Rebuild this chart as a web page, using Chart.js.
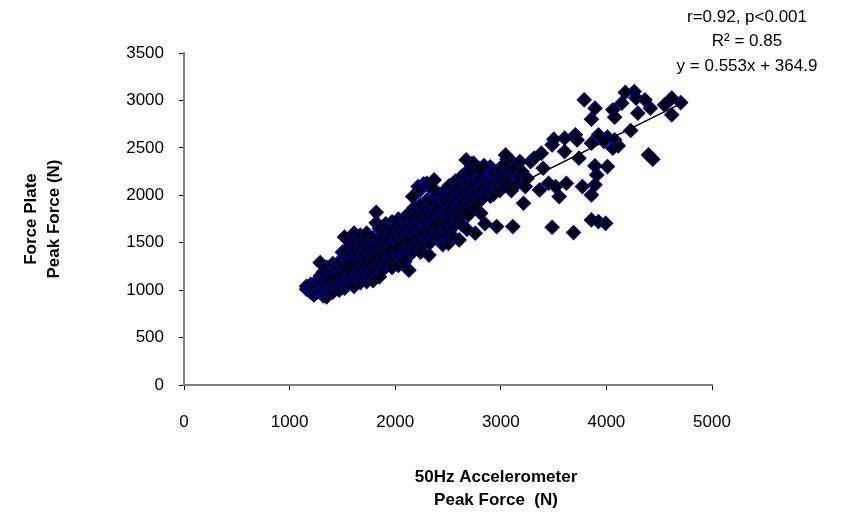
<!DOCTYPE html>
<html>
<head>
<meta charset="utf-8">
<script src="https://cdn.jsdelivr.net/npm/chart.js@4/dist/chart.umd.min.js"></script>
<style>
  html, body { margin: 0; padding: 0; background: #fff; }
</style>
</head>
<body>
<canvas id="peakChart" width="848" height="515"></canvas>
<script>
// accelerometer peak force (x, N) vs force plate peak force (y, N)

// main band, going left to right
var bandPoints = [
  [1160,1040],[1160,1010],
  [1200,1060],[1200,980],[1200,1020],
  [1230,950],[1230,1050],[1230,1000],
  [1260,1100],[1260,1020],[1260,980],
  [1290,1290],[1290,1150],[1290,1060],[1290,1000],
  [1320,1190],[1320,1080],[1320,1010],[1320,940],
  [1350,1240],[1350,1120],[1350,1050],[1350,990],[1350,930],
  [1380,1200],[1380,1100],[1380,1000],
  [1410,1280],[1410,1150],[1410,1060],[1410,980],
  [1440,1230],[1440,1120],[1440,1030],
  [1470,1300],[1470,1180],[1470,1080],[1470,1000],
  [1500,1400],[1500,1250],[1500,1140],[1500,1050],
  [1520,1560],[1520,1410],[1520,1200],[1520,1100],[1520,1020],
  [1550,1320],[1550,1230],[1550,1130],[1550,1060],
  [1580,1500],[1580,1380],[1580,1280],[1580,1170],[1580,1080],
  [1610,1600],[1610,1450],[1610,1340],[1610,1220],[1610,1120],[1610,1040],
  [1640,1530],[1640,1400],[1640,1260],[1640,1150],
  [1670,1580],[1670,1470],[1670,1330],[1670,1200],[1670,1080],
  [1700,1520],[1700,1380],[1700,1260],[1700,1150],
  [1730,1600],[1730,1440],[1730,1310],[1730,1200],[1730,1090],
  [1760,1500],[1760,1370],[1760,1250],[1760,1140],
  [1790,1550],[1790,1420],[1790,1300],[1790,1180],[1790,1100],
  [1820,1820],[1820,1710],[1820,1480],[1820,1350],[1820,1230],
  [1850,1650],[1850,1530],[1850,1400],[1850,1270],[1850,1140],
  [1880,1580],[1880,1460],[1880,1330],[1880,1210],
  [1910,1700],[1910,1620],[1910,1500],[1910,1380],[1910,1260],
  [1940,1660],[1940,1540],[1940,1420],[1940,1300],
  [1970,1720],[1970,1600],[1970,1470],[1970,1350],[1970,1240],
  [2000,1680],[2000,1560],[2000,1430],[2000,1310],
  [2030,1750],[2030,1620],[2030,1500],[2030,1370],[2030,1260],
  [2060,1700],[2060,1580],[2060,1450],[2060,1340],
  [2090,1760],[2090,1640],[2090,1520],[2090,1400],[2090,1300],
  [2120,1800],[2120,1690],[2120,1570],[2120,1450],[2120,1350],[2130,1210],
  [2150,1740],[2150,1620],[2150,1500],[2150,1390],
  [2180,1870],[2180,1780],[2180,1660],[2180,1540],[2180,1420],
  [2210,1820],[2210,1700],[2210,1580],[2210,1460],
  [2240,1900],[2240,1750],[2240,1630],[2240,1510],[2240,1400],
  [2270,1850],[2270,1720],[2270,1600],[2270,1480],
  [2300,1950],[2300,1800],[2300,1670],[2300,1540],[2320,1370],
  [2330,1880],[2330,1750],[2330,1620],[2330,1500],
  [2360,1930],[2360,1800],[2360,1680],[2360,1560],
  [2390,1980],[2390,1850],[2390,1720],[2390,1600],
  [2420,2010],[2420,1890],[2420,1770],[2420,1650],[2420,1540],
  [2450,1950],[2450,1820],[2450,1700],[2450,1590],[2450,1480],
  [2480,2060],[2480,1930],[2480,1800],[2480,1670],
  [2510,2100],[2510,1980],[2510,1850],[2510,1720],[2510,1620],[2504,1494],
  [2540,2020],[2540,1900],[2540,1770],[2540,1660],[2550,1560],
  [2570,2150],[2570,2060],[2570,1940],[2570,1820],[2570,1700],
  [2600,2100],[2600,1990],[2600,1870],[2600,1750],[2606,1529],
  [2630,2200],[2630,2030],[2630,1920],[2630,1800],[2630,1690],
  [2660,2130],[2660,2000],[2660,1860],
  [2690,2260],[2690,2170],[2690,2050],[2690,1920],[2690,1790],[2680,1640],
  [2720,2330],[2720,2210],[2720,2090],[2720,1960],
  [2750,2250],[2750,2130],[2750,2010],[2750,1880],[2758,1600],
  [2780,2290],[2780,2170],[2780,2050],
  [2810,2200],[2810,2080],[2810,1950],[2810,1810],
  [2840,2310],[2840,2240],[2840,2120],[2840,2000],[2850,1700],
  [2870,2270],[2870,2150],[2870,2030],
  [2900,2300],[2900,2180],[2910,2233],[2900,1990],
  [2930,2240],[2930,2120],[2930,2010],
  [2960,2200],[2960,2080],[2961,1670],
  [2990,2280],[2990,2160],[2990,2050],
  [3030,2320],[3030,2200],[3030,2100],
  [3060,2380],[3060,2250],[3060,2150],
  [3100,2360],[3100,2260],[3114,1670],[3100,2050]
];

// small cluster sitting above the band
var upperCluster = [
  [2166,1987],[2217,2092],[2240,2060],[2270,2120],[2301,2127],[2330,2100],
  [2369,2162],[2369,2039],[2350,2080],[2673,2373],[2741,2338],[2707,2250],
  [2842,2310],[2800,2280]
];

// sparse points on the right
var rightPoints = [
  [3046,2426],[3029,2320],[3120,2290],[3150,2120],[3164,2198],[3181,2356],
  [3200,2250],[3232,2092],[3215,1916],[3250,2180],[3282,2356],[3316,2391],
  [3384,2444],[3401,2285],[3367,2057],[3452,2127],[3519,2092],[3553,1987],
  [3486,2532],[3502,2591],[3604,2602],[3604,2461],[3621,2127],[3706,2637],
  [3723,2584],[3740,2391],[3773,2092],[3858,2004],[3892,2110],[3909,2215],
  [3892,2310],[4010,2303],[3858,2549],[3925,2637],[4010,2612],[3976,2567],
  [4078,2584],[4061,2496],[4112,2521],[4230,2683],[4399,2426],[4440,2380],
  [3486,1663],[3689,1607],[3858,1740],[3925,1723],[3993,1705],
  [3790,3006],[3892,2918],[3858,2802],[4061,2901],[4078,2823],[4145,2971],
  [4179,3084],[4264,3094],[4281,3024],[4365,3006],[4298,2866],[4416,2918],
  [4551,2953],[4619,3024],[4704,2978],[4619,2848]
];

var xTicks = [0, 1000, 2000, 3000, 4000, 5000];
var yTicks = [0, 500, 1000, 1500, 2000, 2500, 3000, 3500];

// Excel trendline fit printed on the chart
var slope = 0.553;
var intercept = 364.9;
var statsLines = ['r=0.92, p<0.001', 'R\u00B2 = 0.85', 'y = 0.553x + 364.9'];
var xTitle = ['50Hz Accelerometer', 'Peak Force  (N)'];
var yTitle = ['Force Plate', 'Peak Force (N)'];

var allPoints = bandPoints.concat(upperCluster, rightPoints);
var scatterData = allPoints.map(function(p){ return {x: p[0], y: p[1]}; });

var xs = allPoints.map(function(p){ return p[0]; });
var xMin = Math.min.apply(null, xs);
var xMax = Math.max.apply(null, xs);
var trendData = [
  {x: xMin, y: slope * xMin + intercept},
  {x: xMax, y: slope * xMax + intercept}
];

var FONT = '"Liberation Sans", Arial, sans-serif';

// axis title under the x axis and the fit text in the corner
var extraText = {
  id: 'extraText',
  afterDraw: function(chart){
    var ctx = chart.ctx;
    ctx.save();
    ctx.fillStyle = '#000';
    ctx.textAlign = 'center';
    ctx.textBaseline = 'middle';
    ctx.font = '17px ' + FONT;
    for (var i = 0; i < statsLines.length; i++) {
      ctx.fillText(statsLines[i], 747, 17 + i * 24.5);
    }
    ctx.font = 'bold 17px ' + FONT;
    ctx.fillText(xTitle[0], 496, 477);
    ctx.fillText(xTitle[1], 496, 500);
    ctx.restore();
  }
};

var ctx = document.getElementById('peakChart').getContext('2d');
var peakChart = new Chart(ctx, {
  type: 'scatter',
  data: {
    datasets: [{
      label: 'trend',
      data: trendData,
      showLine: true,
      borderColor: '#000',
      borderWidth: 1.5,
      pointRadius: 0,
      fill: false,
      order: 0
    }, {
      label: 'peak force',
      data: scatterData,
      pointStyle: 'rectRot',
      pointRadius: 6.8,
      pointBorderWidth: 1.5,
      pointBackgroundColor: '#000',
      pointBorderColor: '#000080',
      order: 1
    }]
  },
  options: {
    responsive: false,
    animation: false,
    layout: { padding: { left: 0, top: 53, right: 136, bottom: 0 } },
    plugins: {
      legend: { display: false },
      tooltip: { enabled: false }
    },
    scales: {
      x: {
        type: 'linear',
        min: xTicks[0],
        max: xTicks[xTicks.length - 1],
        ticks: {
          stepSize: 1000,
          maxRotation: 0,
          padding: 22,
          color: '#000',
          font: { family: FONT, size: 17 },
          callback: function(v){ return String(v); }
        },
        grid: { drawOnChartArea: false, drawTicks: true, tickLength: 5, color: '#000', lineWidth: 1 },
        border: { color: '#808080', width: 2 },
        afterFit: function(scale){ scale.height = 130; }
      },
      y: {
        type: 'linear',
        min: yTicks[0],
        max: yTicks[yTicks.length - 1],
        ticks: {
          stepSize: 500,
          padding: 15,
          color: '#000',
          font: { family: FONT, size: 17 },
          callback: function(v){ return String(v); }
        },
        title: {
          display: true,
          text: yTitle,
          color: '#000',
          font: { family: FONT, size: 17, weight: 'bold', lineHeight: 1.4 },
          padding: { top: 19, bottom: 0 }
        },
        grid: { drawOnChartArea: false, drawTicks: true, tickLength: 5, color: '#000', lineWidth: 1 },
        border: { color: '#808080', width: 2 },
        afterFit: function(scale){ scale.width = 184; }
      }
    }
  },
  plugins: [extraText]
});
</script>
</body>
</html>
